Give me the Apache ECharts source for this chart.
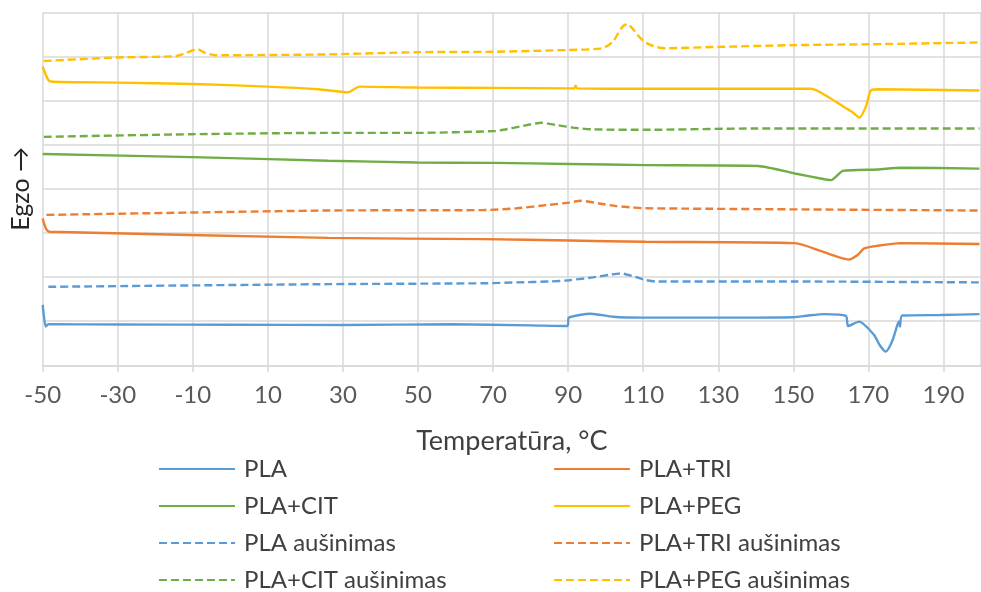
<!DOCTYPE html>
<html>
<head>
<meta charset="utf-8">
<script src="https://cdn.jsdelivr.net/npm/echarts@6/dist/echarts.min.js"></script>
<style>
  html, body { margin: 0; padding: 0; background: #ffffff; }
  #chart { width: 981px; height: 592px; }
</style>
</head>
<body>
<div id="chart"></div>
<script>
// Temperature axis tick values (°C); the axis runs on to 200 °C.
const xTickValues = [-50, -30, -10, 10, 30, 50, 70, 90, 110, 130, 150, 170, 190];
const xAxisEnd = 200;

// DSC curves: temperature (°C) and heat flow (arbitrary units, offset per sample).
// Heating runs (solid)
const plaT = [-50, -49.2, -48.5, -30, 0, 30, 58.6, 80, 89.8, 90.2, 96, 102, 110, 130, 150, 154, 158.3, 164.0, 164.6, 167.5, 171.5, 173, 174.6, 176.3, 177.7, 178.1, 178.4, 179.0, 189.2, 199.6];
const plaY = [1.37, 0.88, 0.93, 0.925, 0.92, 0.915, 0.93, 0.905, 0.89, 1.08, 1.17, 1.10, 1.08, 1.08, 1.09, 1.13, 1.16, 1.12, 0.89, 0.99, 0.69, 0.46, 0.31, 0.54, 0.91, 0.99, 0.88, 1.13, 1.14, 1.16];

const triT = [-50, -49.5, -48.9, -48.1, 26, 67.5, 90.3, 110.6, 150.4, 157.4, 161.8, 164.9, 167.1, 168.9, 172.4, 178.6, 199.6];
const triY = [3.33, 3.18, 3.07, 3.03, 2.89, 2.86, 2.83, 2.80, 2.77, 2.59, 2.46, 2.40, 2.50, 2.65, 2.71, 2.77, 2.75];

const citT = [-50, -10.2, 26, 49.8, 70.1, 90.1, 110.6, 140.6, 150.4, 158.3, 160.1, 161.4, 163.2, 172.4, 178.6, 199.6];
const citY = [4.79, 4.72, 4.64, 4.60, 4.59, 4.565, 4.54, 4.52, 4.35, 4.22, 4.20, 4.28, 4.41, 4.44, 4.48, 4.46];

const pegT = [-50, -48.5, -47.2, -30, -10.2, 9.9, 23.4, 31.3, 34.4, 49.8, 70.1, 90.1, 91.6, 92.0, 92.4, 110.6, 154.8, 159.2, 163.6, 165.6, 167.6, 169.3, 170.6, 172.4, 199.6];
const pegY = [6.77, 6.47, 6.43, 6.41, 6.38, 6.32, 6.26, 6.19, 6.32, 6.30, 6.29, 6.28, 6.28, 6.34, 6.28, 6.27, 6.27, 6.09, 5.85, 5.75, 5.62, 5.86, 6.23, 6.26, 6.23];

// Cooling runs (dashed)
const plaCoolT = [-48.5, 26, 67.5, 76.3, 85.0, 90.3, 96.6, 100.9, 104.1, 107.1, 110.6, 113.3, 150.4, 199.6];
const plaCoolY = [1.78, 1.84, 1.86, 1.88, 1.90, 1.93, 1.995, 2.05, 2.085, 2.025, 1.935, 1.90, 1.90, 1.88];

const triCoolT = [-49, 26, 67.5, 76.3, 85.0, 90.3, 93.5, 98.3, 102.8, 107.1, 110.6, 199.6];
const triCoolY = [3.41, 3.51, 3.52, 3.56, 3.64, 3.69, 3.73, 3.67, 3.61, 3.58, 3.56, 3.51];

const citCoolT = [-49.7, -10.2, 26, 49.8, 70.1, 72.8, 78.0, 82.9, 86.8, 91.3, 96.6, 110.6, 139.7, 199.6];
const citCoolY = [5.18, 5.24, 5.27, 5.27, 5.31, 5.34, 5.43, 5.50, 5.45, 5.39, 5.35, 5.34, 5.37, 5.37];

const pegCoolT = [-49.7, -30, -14.6, -11.9, -8.8, -6.6, -4.0, 26, 49.8, 70.1, 90.1, 99.2, 101.9, 104.5, 105.8, 107.1, 108.9, 110.6, 113.3, 115.9, 130.1, 150.4, 170.3, 199.6];
const pegCoolY = [6.90, 6.98, 7.01, 7.08, 7.17, 7.08, 7.03, 7.05, 7.10, 7.11, 7.15, 7.19, 7.34, 7.68, 7.74, 7.64, 7.45, 7.32, 7.22, 7.19, 7.22, 7.26, 7.28, 7.32];

const FONT = 'Lato, "Liberation Sans", sans-serif';
const BLUE = '#5B9BD5', ORANGE = '#ED7D31', GREEN = '#70AD47', GOLD = '#FFC000';
const GRID = '#D9D9D9';
const DASH = [8, 4];

function pairs(ts, ys) {
  return ts.map((t, i) => [t, ys[i]]);
}

function curve(name, ts, ys, color, dashed) {
  return {
    name: name,
    type: 'line',
    data: pairs(ts, ys),
    showSymbol: false,
    symbol: 'none',
    smooth: 0.22,
    animation: false,
    lineStyle: { color: color, width: 2.4, type: dashed ? DASH : 'solid' },
    itemStyle: { color: color }
  };
}

const chart = echarts.init(document.getElementById('chart'), null, { renderer: 'canvas' });

const legendText = { fontFamily: FONT, fontSize: 24, color: '#404040', padding: [0, 0, 0, 4] };
const legendBase = {
  orient: 'vertical', top: 457, height: 135, padding: 0,
  itemWidth: 76, itemHeight: 2, itemGap: 13,
  itemStyle: { opacity: 0 },
  textStyle: legendText
};

chart.setOption({
  backgroundColor: '#ffffff',
  animation: false,
  textStyle: { fontFamily: FONT },
  grid: { left: 42.7, top: 12.5, width: 945, height: 352.8, containLabel: false },
  xAxis: {
    type: 'value',
    min: xTickValues[0],
    max: xAxisEnd,
    interval: xTickValues[1] - xTickValues[0],
    name: 'Temperatūra, °C',
    nameLocation: 'middle',
    nameGap: 62,
    nameTextStyle: { fontFamily: FONT, fontSize: 27, color: '#404040' },
    axisLine: { show: true, lineStyle: { color: GRID, width: 1.5 } },
    axisTick: { show: true, length: 7, lineStyle: { color: GRID, width: 1.5 } },
    axisLabel: { fontFamily: FONT, fontSize: 24, color: '#595959', margin: 18, showMaxLabel: false },
    splitLine: { show: true, lineStyle: { color: GRID, width: 1.5 } }
  },
  yAxis: {
    type: 'value',
    min: 0,
    max: 8,
    interval: 1,
    name: 'Egzo →',
    nameLocation: 'middle',
    nameGap: 9,
    nameTextStyle: { fontFamily: FONT, fontSize: 25, color: '#262626' },
    axisLine: { show: false },
    axisTick: { show: false },
    axisLabel: { show: false },
    splitLine: { show: true, lineStyle: { color: GRID, width: 1.5 } }
  },
  legend: [
    Object.assign({}, legendBase, {
      left: 158,
      data: ['PLA', 'PLA+CIT', 'PLA aušinimas', 'PLA+CIT aušinimas']
    }),
    Object.assign({}, legendBase, {
      left: 553,
      data: ['PLA+TRI', 'PLA+PEG', 'PLA+TRI aušinimas', 'PLA+PEG aušinimas']
    })
  ],
  series: [
    curve('PLA', plaT, plaY, BLUE, false),
    curve('PLA+TRI', triT, triY, ORANGE, false),
    curve('PLA+CIT', citT, citY, GREEN, false),
    curve('PLA+PEG', pegT, pegY, GOLD, false),
    curve('PLA aušinimas', plaCoolT, plaCoolY, BLUE, true),
    curve('PLA+TRI aušinimas', triCoolT, triCoolY, ORANGE, true),
    curve('PLA+CIT aušinimas', citCoolT, citCoolY, GREEN, true),
    curve('PLA+PEG aušinimas', pegCoolT, pegCoolY, GOLD, true)
  ]
});
</script>
</body>
</html>
